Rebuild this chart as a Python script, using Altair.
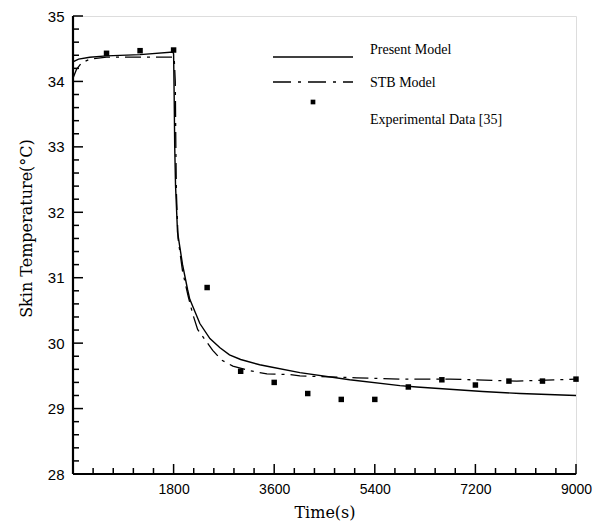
import altair as alt
import pandas as pd

# Present model curve
present_t = [0, 100, 300, 600, 1200, 1790, 1800, 1810, 1820, 1835, 1870, 1960, 2050, 2090,
             2270, 2450, 2630, 2800, 3000, 3340, 3520, 4060, 4950, 5850, 6150, 7330, 8000, 9000]
present_v = [34.30, 34.34, 34.37, 34.39, 34.41, 34.45, 34.42, 33.8, 33.0, 32.4, 31.7, 31.2, 30.82, 30.67,
             30.30, 30.07, 29.93, 29.82, 29.75, 29.67, 29.64, 29.55, 29.44, 29.35, 29.33, 29.26, 29.23, 29.20]

# STB model curve
stb_t = [0, 60, 150, 300, 600, 1200, 1810, 1830, 1840, 1850, 1880, 1960, 2060, 2140, 2230, 2355,
         2500, 2660, 2860, 3160, 3470, 3880, 4060, 5080, 5850, 6740, 7940, 9000]
stb_v = [34.05, 34.18, 34.28, 34.34, 34.37, 34.37, 34.37, 34.0, 33.0, 32.3, 31.6, 31.1, 30.72, 30.45, 30.21, 30.06,
         29.89, 29.74, 29.65, 29.58, 29.53, 29.52, 29.50, 29.47, 29.45, 29.45, 29.42, 29.45]

# Experimental data [35]
exp_t = [600, 1200, 1800, 2400, 3000, 3600, 4200, 4800, 5400, 6000, 6600, 7200, 7800, 8400, 9000]
exp_v = [34.43, 34.47, 34.48, 30.85, 29.57, 29.40, 29.23, 29.14, 29.14, 29.33, 29.44, 29.36, 29.42, 29.42, 29.45]

x_major = [1800, 3600, 5400, 7200, 9000]
x_minor = [t for t in range(360, 9000, 360) if t % 1800 != 0]
y_major = [28, 29, 30, 31, 32, 33, 34, 35]
y_minor = [round(28 + 0.2 * i, 1) for i in range(1, 35) if i % 5 != 0]

W, H = 503, 458
SERIF = "Liberation Serif"
TITLE_FONT = "DejaVu Serif"
SANS = "Liberation Sans"

xs = alt.Scale(domain=[0, 9000], nice=False, zero=False)
ys = alt.Scale(domain=[28, 35], nice=False, zero=False)

ax_x = alt.Axis(
    title="Time(s)", values=x_major, format="d", ticks=False, grid=False, domain=False,
    labelFont=SANS, labelFontSize=14, labelColor="black", labelPadding=8, labelFlush=False,
    titleFont=TITLE_FONT, titleFontSize=16, titleFontWeight="normal", titleColor="black",
    titleY=30, titleBaseline="top")
ax_y = alt.Axis(
    title="Skin Temperature(°C)", values=y_major, format="d", ticks=False, grid=False, domain=False,
    labelFont=SANS, labelFontSize=15, labelColor="black", labelPadding=9, labelFlush=False,
    titleFont=TITLE_FONT, titleFontSize=16, titleFontWeight="normal", titleColor="black",
    titleX=-47, titleY=212, titleAlign="center", titleBaseline="middle")

X = alt.X("t:Q", scale=xs, axis=ax_x)
Y = alt.Y("v:Q", scale=ys, axis=ax_y)

present_df = pd.DataFrame({"t": present_t, "v": present_v})
stb_df = pd.DataFrame({"t": stb_t, "v": stb_v})
exp_df = pd.DataFrame({"t": exp_t, "v": exp_v})

present = alt.Chart(present_df).mark_line(color="black", strokeWidth=1.4, clip=True).encode(
    x=X, y=Y, order="t:Q")

stb = alt.Chart(stb_df).mark_line(color="black", strokeWidth=1.3, strokeDash=[16, 6, 3, 6], clip=True).encode(
    x=X, y=Y, order="t:Q")

exp = alt.Chart(exp_df).mark_point(shape="square", filled=True, color="black", size=30, opacity=1).encode(
    x=X, y=Y)

def xticks(vals, length):
    return alt.Chart(pd.DataFrame({"t": vals})).mark_rule(color="black", strokeWidth=1.5).encode(
        x=X, y=alt.value(H), y2=alt.value(H - length))

def yticks(vals, length):
    return alt.Chart(pd.DataFrame({"v": vals})).mark_rule(color="black", strokeWidth=1.5).encode(
        y=Y, x=alt.value(0), x2=alt.value(length))

dummy = pd.DataFrame({"a": [0]})

# Frame: left and bottom thicker
left_line = alt.Chart(dummy).mark_rule(color="black", strokeWidth=2.2).encode(
    x=alt.value(0), y=alt.value(0), y2=alt.value(H))
bottom_line = alt.Chart(dummy).mark_rule(color="black", strokeWidth=2.2).encode(
    x=alt.value(0), x2=alt.value(W), y=alt.value(H))

# Legend
leg_solid = alt.Chart(dummy).mark_rule(color="black", strokeWidth=1.4).encode(
    x=alt.value(200), x2=alt.value(280), y=alt.value(41))
leg_dash = alt.Chart(dummy).mark_rule(color="black", strokeWidth=1.3, strokeDash=[18, 7, 3, 7]).encode(
    x=alt.value(200), x2=alt.value(280), y=alt.value(66))
leg_pt = alt.Chart(dummy).mark_point(shape="square", filled=True, color="black", size=22, opacity=1).encode(
    x=alt.value(240), y=alt.value(86))

def leg_text(txt, y):
    return alt.Chart(dummy).mark_text(font=SERIF, fontSize=14, align="left", baseline="middle",
                                      color="black").encode(
        x=alt.value(297), y=alt.value(y), text=alt.value(txt))

chart = alt.layer(
    present, stb, exp,
    xticks(x_major, 10), xticks(x_minor, 6),
    yticks(y_major, 10), yticks(y_minor, 6),
    left_line, bottom_line,
    leg_solid, leg_dash, leg_pt,
    leg_text("Present Model", 34), leg_text("STB Model", 67), leg_text("Experimental Data [35]", 104),
).properties(
    width=W, height=H,
    autosize=alt.AutoSizeParams(type="none"),
    padding={"left": 65, "top": 8, "right": 22, "bottom": 50},
).configure_view(stroke="black", strokeWidth=1.5).configure(background="white")

chart.save("out.html", embed_options={"renderer": "svg", "actions": False})
